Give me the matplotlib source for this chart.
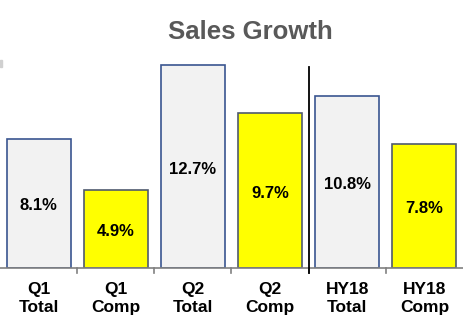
import numpy as np
from matplotlib import pyplot as plt
from matplotlib.patches import Rectangle

# bar data
categories = ['Q1\nTotal', 'Q1\nComp', 'Q2\nTotal', 'Q2\nComp', 'HY18\nTotal', 'HY18\nComp']
growth = [8.1, 4.9, 12.7, 9.7, 10.8, 7.8]
labels = ['8.1%', '4.9%', '12.7%', '9.7%', '10.8%', '7.8%']
kinds = ['total', 'comp', 'total', 'comp', 'total', 'comp']

fill = {'total': '#F2F2F2', 'comp': '#FFFF00'}
edge = {'total': '#3A5590', 'comp': '#4F5A6E'}

plt.rcParams['font.family'] = ['Liberation Sans', 'DejaVu Sans']

fig = plt.figure(figsize=(4.63, 3.25), dpi=100)
ax = fig.add_axes([0, 57 / 325, 1, 268 / 325])

x = np.arange(len(growth))
ax.bar(x, growth, width=0.83,
       color=[fill[k] for k in kinds],
       edgecolor=[edge[k] for k in kinds], linewidth=1.2, zorder=2)

for xi, v, s in zip(x, growth, labels):
    ax.text(xi, v / 2 - 0.15, s, ha='center', va='center',
            fontsize=12, fontweight='bold', color='black')

ax.set_xlim(-0.5, 5.5)
ax.set_ylim(0, 16.8)

# baseline + separators between categories
for s in ['top', 'right', 'left']:
    ax.spines[s].set_visible(False)
ax.spines['bottom'].set_color('#808080')
ax.spines['bottom'].set_linewidth(1.2)
ax.set_yticks([])
ax.set_xticks(x)
ax.set_xticklabels(categories, fontsize=12.5, fontweight='bold', linespacing=1.3)
ax.tick_params(axis='x', length=0, pad=10)
for b in np.arange(0.5, 5.0, 1.0):
    ax.plot([b, b], [0, -0.3], color='#808080', lw=1.2, clip_on=False)

# divider between quarters and half year
ax.plot([3.5, 3.5], [-0.3, 12.6], color='black', lw=1.3, clip_on=False, zorder=3)

fig.text(0.54, 1 - 32 / 325, 'Sales Growth', ha='center', va='center',
         fontsize=18.5, fontweight='bold', color='#595959')

# little grey mark on the left edge
fig.patches.append(Rectangle((0, 1 - 67 / 325), 2 / 463, 7 / 325,
                             transform=fig.transFigure, color='#D0D0D0'))

fig.savefig('out.png', dpi=100)
